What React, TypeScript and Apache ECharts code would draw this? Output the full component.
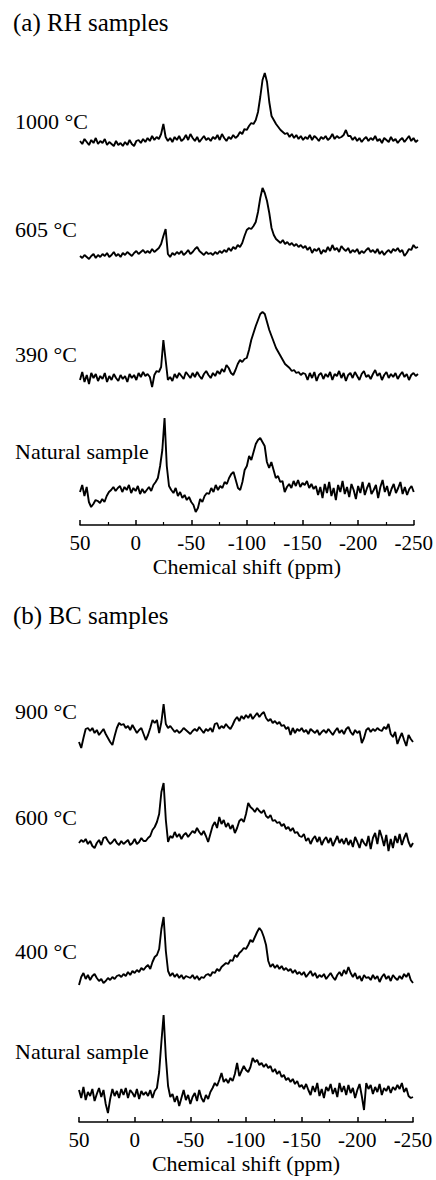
import React, { useEffect, useRef } from "react";
import * as echarts from "echarts";

// Chemical shift sampling grid (ppm), from 50 down to -250 in 2 ppm steps
const PPM_START = 50;
const PPM_STEP = -2;
const ppm: number[] = Array.from({ length: 151 }, (_, i) => PPM_START + PPM_STEP * i);

const tickValues = [50, 0, -50, -100, -150, -200, -250];

// Intensities (arbitrary units, baseline = 0)
const rh1000 = [
  1, -2, 3, 0, -3, 2, -1, 4, -2, 1,
  -1, 3, -3, 0, -2, -4, 1, -3, -1, -4,
  0, -3, 2, -2, -4, 1, 2, -1, 3, 0,
  4, 1, 6, 2, 5, 3, 8, 18, 5, 1,
  4, 0, 5, 2, 6, 1, 3, 7, 2, 8,
  4, 1, 5, 0, 3, 6, 2, 4, 1, 5,
  3, 7, 2, 8, 4, 1, 5, 3, 7, 4,
  6, 10, 8, 13, 12, 16, 19, 18, 22, 30,
  45, 62, 69, 60, 40, 26, 22, 18, 15, 12,
  10, 8, 9, 5, 8, 4, 7, 3, 6, 2,
  5, 3, 7, 2, 6, 4, 1, 5, 3, 6,
  2, 4, 8, 3, 6, 4, 5, 7, 12, 6,
  6, 2, 5, 1, 4, 0, 3, 5, 1, 4,
  2, 6, 1, 3, -1, 4, 2, 0, 5, 1,
  3, -1, 2, 4, 0, 3, 6, 1, 4, 0,
  2,
];

const rh605 = [
  0, -2, 1, -1, -3, 0, 2, -2, 1, -1,
  2, 0, 3, -1, 1, 4, 0, 2, -1, 3,
  1, 4, 2, 0, 3, 5, 2, 4, 6, 3,
  5, 3, 7, 4, 6, 8, 12, 20, 27, 2,
  -1, 3, 1, 4, 2, 5, 1, 3, 6, 2,
  4, 7, 9, 5, 3, 1, 4, 2, 3, 1,
  4, 2, 5, 3, 6, 4, 8, 5, 9, 7,
  11, 9, 13, 20, 26, 28, 27, 30, 34, 44,
  58, 68, 63, 55, 43, 28, 21, 17, 15, 13,
  16, 12, 14, 11, 13, 10, 12, 9, 11, 8,
  10, 6, 9, 3, 7, 5, 8, 2, 6, 4,
  9, 5, 11, 6, 8, 4, 10, 7, 5, 8,
  3, 6, 4, 7, 2, 5, 3, 6, 8, 4,
  6, 3, 7, 2, 5, 1, 4, 6, 3, 7,
  5, 8, 4, 6, 0, 3, 7, 6, 11, 8,
  9,
];

const rh390 = [
  -2, 6, -4, 3, -6, 5, 0, 4, -3, 2,
  -1, 5, -4, 2, -2, 4, 0, -3, 3, -1,
  2, -4, 4, 0, 3, -2, 5, 1, 6, 2,
  4, 1, -9, 3, 7, 6, 11, 38, 18, -2,
  1, -3, 4, 0, 5, 2, -1, 6, 3, 0,
  5, 1, 6, 2, -1, 4, 7, 3, 0, 5,
  2, 7, 4, 9, 6, 13, 10, 5, 3, 8,
  14, 18, 16, 19, 20, 28, 38, 45, 52, 58,
  64, 66, 64, 56, 48, 42, 36, 30, 26, 22,
  18, 14, 12, 10, 7, 8, 5, 6, 3, 5,
  4, -2, 5, 0, 6, -3, 3, 5, -1, 4,
  1, 6, -2, 4, 2, 7, 0, 5, -3, 3,
  5, 0, 6, 2, -2, 4, 7, 1, 3, -1,
  4, 8, 2, 5, -2, 3, 6, 0, 4, 1,
  5, -1, 3, 6, 1, 4, -2, 3, 5, 2,
  4,
];

const rhNatural = [
  -2, 5, -6, 3, -12, -17, -14, -10, -11, -13,
  -9, -12, -6, -2, 0, 3, -1, 2, 4, -2,
  3, 0, 5, -3, 2, -1, 4, -4, 1, -3,
  0, 3, -1, 5, 8, 12, 24, 40, 72, 24,
  4, 0, -3, 2, -6, -2, -8, -5, -10, -7,
  -12, -15, -22, -18, -9, -12, -6, -3, -4, 2,
  -2, 5, 0, 4, 2, 8, 6, 12, 16, 18,
  10, 2, 0, 8, 20, 24, 34, 30, 38, 46,
  50, 52, 48, 44, 28, 22, 28, 20, 12, 14,
  8, 9, -2, 3, 6, 2, 9, 4, 10, 3,
  7, 5, 9, 2, 6, 1, 4, -5, 3, -8,
  6, -3, 8, -6, 2, -10, 5, -2, 9, -4,
  3, -7, 6, 0, -9, 4, -3, 8, -5, 2,
  7, -4, 0, 5, -8, 3, 10, -2, 4, -6,
  1, 6, -3, 2, 8, -4, 3, -5, 1, 4,
  -2,
];

const bc900 = [
  -10, -16, -6, 3, 4, 1, 4, -1, 2, -3,
  0, 3, -2, -6, -10, -13, -4, 4, 9, 7,
  8, 4, 6, 2, 7, 3, -1, 2, 4, -2,
  -8, -3, 4, 12, 9, 12, -1, 10, 28, 8,
  4, 6, 3, 0, 2, -1, 1, 4, 2, 0,
  -2, 1, 3, 1, 5, 2, -1, 3, 1, 4,
  0, 8, 9, 3, 6, 4, 8, 5, 3, 7,
  12, 15, 11, 16, 13, 17, 14, 18, 13, 16,
  19, 15, 18, 20, 14, 11, 13, 9, 11, 8,
  10, 6, 7, 3, 5, -3, 4, -1, 3, 1,
  4, 0, 2, -2, 3, 1, -1, 2, -3, 0,
  2, -1, 3, 0, -3, 1, 4, -1, 2, -2,
  3, 5, 0, -3, 2, -1, 1, -11, -6, 2,
  4, 0, 3, 1, 4, 2, 1, 5, 3, 8,
  -2, -5, 0, -12, -6, -1, -8, -14, -3, -7,
  -10,
];

const bc600 = [
  -3, 0, -2, 1, -4, -1, -6, -8, -3, 0,
  -5, 2, 3, -1, -4, -2, 1, -3, -5, -1,
  -4, -2, 0, -5, -3, 1, -4, -2, 2, -1,
  -1, 2, 4, 10, 13, 18, 26, 48, 57, 20,
  -2, 4, 2, 8, 3, 6, 1, 5, 7, 3,
  6, 9, 7, 12, 8, 5, 9, 4, -2, 6,
  14, 18, 12, 23, 16, 20, 13, 17, 11, 15,
  7, 12, 19, 21, 18, 26, 37, 33, 31, 28,
  32, 29, 27, 30, 24, 22, 25, 19, 20, 17,
  18, 14, 16, 11, 13, 9, 12, 7, 8, 4,
  3, 6, -1, 2, -4, 1, 4, -2, 3, -5,
  0, 3, -3, 2, -6, -1, 4, -3, 1, -4,
  2, -5, 0, -7, 3, -2, -8, 1, -3, -6,
  4, -9, 2, 7, -4, 10, 3, -6, 5, -11,
  1, -8, 4, -3, 6, -5, 2, 7, -2, -7,
  -3,
];

const bc400 = [
  -6, 2, 6, 0, 4, -1, 3, 5, 1, -2,
  0, -4, -2, 1, -1, 2, 0, 3, 4, 2,
  5, 3, 7, 4, 8, 6, 9, 7, 11, 9,
  12, 14, 10, 17, 22, 24, 30, 50, 62, 28,
  8, 3, 6, 2, 5, 1, 4, 0, 3, 2,
  1, 4, 0, 3, -1, 2, 1, 4, 5, 3,
  7, 6, 10, 8, 12, 14, 16, 15, 19, 18,
  24, 22, 26, 28, 31, 30, 34, 39, 37, 42,
  47, 51, 48, 42, 34, 18, 12, 15, 11, 14,
  10, 13, 9, 11, 8, 10, 6, 9, 5, 7,
  4, 7, 2, 5, 8, 3, 6, 1, 4, 2,
  5, 0, 3, 6, 2, -1, 4, 7, 3, 9,
  5, 12, 6, 2, 6, 0, 3, -2, 4, 1,
  2, -1, 4, 0, 3, -3, 2, 5, 0, 3,
  -2, 4, 1, -1, 3, 0, 5, 2, 6, -1,
  -4,
];

const bcNatural = [
  2, -6, 5, -8, 0, -4, 3, -9, -2, 4,
  -5, 2, -12, -21, -7, 3, -4, 1, -6, 3,
  -3, 4, -6, 2, -1, -5, 3, -7, 1, -3,
  0, -4, 2, -6, 1, 4, 20, 50, 77, 35,
  6, -5, -2, -10, -4, -14, -6, 2, -8, -3,
  -12, -5, -1, -9, 2, -6, -10, -3, -7, 0,
  4, 9, 6, 12, 19, 10, 13, 9, 14, 11,
  18, 29, 16, 21, 26, 22, 20, 25, 34, 30,
  32, 27, 29, 25, 28, 24, 26, 20, 23, 18,
  21, 15, 17, 12, 14, 10, 13, 8, 11, 5,
  7, 3, 8, 2, -3, 6, 0, 9, -4, 3,
  -6, 5, 1, 8, -2, 4, -5, 9, 0, 6,
  -3, 7, -1, 4, -6, 2, 8, -4, -18, 9,
  3, 7, -2, 5, 0, 8, -3, 4, 1, 6,
  -1, 5, 2, 7, 3, 9, 0, 4, -4, -6,
  -5,
];

const panelTitles = ["(a) RH samples", "(b) BC samples"];
const rhLabels = ["1000 °C", "605 °C", "390 °C", "Natural sample"];
const bcLabels = ["900 °C", "600 °C", "400 °C", "Natural sample"];
const axisTitle = "Chemical shift (ppm)";

const FONT = '"Liberation Serif", "Times New Roman", serif';

export default function App() {
  const ref = useRef<HTMLDivElement>(null);

  useEffect(() => {
    if (!ref.current) return;
    const chart = echarts.init(ref.current, undefined, { renderer: "svg" });

    const panelA = { left: 80, width: 338, axisY: 525 };
    const panelB = { left: 79, width: 334, axisY: 1122 };

    const spectra = [
      { label: rhLabels[0], data: rh1000, base: 142, labelY: 122, panel: panelA, bottom: false },
      { label: rhLabels[1], data: rh605, base: 256, labelY: 230, panel: panelA, bottom: false },
      { label: rhLabels[2], data: rh390, base: 378, labelY: 355, panel: panelA, bottom: false },
      { label: rhLabels[3], data: rhNatural, base: 490, labelY: 452, panel: panelA, bottom: true },
      { label: bcLabels[0], data: bc900, base: 732, labelY: 712, panel: panelB, bottom: false },
      { label: bcLabels[1], data: bc600, base: 840, labelY: 818, panel: panelB, bottom: false },
      { label: bcLabels[2], data: bc400, base: 979, labelY: 952, panel: panelB, bottom: false },
      { label: bcLabels[3], data: bcNatural, base: 1092, labelY: 1052, panel: panelB, bottom: true },
    ];

    const Y_MAX = 90;
    const grids: any[] = [];
    const xAxes: any[] = [];
    const yAxes: any[] = [];
    const series: any[] = [];
    const graphics: any[] = [];

    spectra.forEach((s, i) => {
      const yMin = s.bottom ? -(s.panel.axisY - s.base) : -35;
      grids.push({
        left: s.panel.left,
        width: s.panel.width,
        top: s.base - Y_MAX,
        height: Y_MAX - yMin,
        containLabel: false,
      });
      xAxes.push({
        gridIndex: i,
        type: "value",
        min: -250,
        max: 50,
        interval: 50,
        inverse: true,
        show: s.bottom,
        axisLine: { show: true, onZero: false, lineStyle: { color: "#000", width: 1.5 } },
        axisTick: { show: true, inside: true, length: 5, lineStyle: { color: "#000", width: 1.5 } },
        minorTick: { show: true, splitNumber: 2, length: 3, lineStyle: { color: "#000", width: 1.2 } },
        splitLine: { show: false },
        minorSplitLine: { show: false },
        axisLabel: {
          show: true,
          margin: 7,
          color: "#000",
          fontFamily: FONT,
          fontSize: 21,
          customValues: tickValues,
        },
        name: s.bottom ? axisTitle : "",
        nameLocation: "middle",
        nameGap: 30,
        nameTextStyle: { color: "#000", fontFamily: FONT, fontSize: 22 },
      });
      yAxes.push({ gridIndex: i, type: "value", min: yMin, max: Y_MAX, show: false });
      series.push({
        type: "line",
        name: s.label,
        xAxisIndex: i,
        yAxisIndex: i,
        data: s.data.map((v, k) => [ppm[k], v]),
        showSymbol: false,
        symbol: "none",
        clip: false,
        lineStyle: { color: "#000", width: 1.9 },
        silent: true,
      });
      graphics.push({
        type: "text",
        left: 15,
        top: s.labelY - 12,
        style: { text: s.label, font: `22px ${FONT}`, fill: "#000" },
      });
    });

    graphics.push({
      type: "text",
      left: 13,
      top: 10,
      style: { text: panelTitles[0], font: `25px ${FONT}`, fill: "#000" },
    });
    graphics.push({
      type: "text",
      left: 13,
      top: 603,
      style: { text: panelTitles[1], font: `25px ${FONT}`, fill: "#000" },
    });

    chart.setOption({
      animation: false,
      backgroundColor: "#fff",
      grid: grids,
      xAxis: xAxes,
      yAxis: yAxes,
      series,
      graphic: graphics,
    });

    return () => chart.dispose();
  }, []);

  return (
    <div style={{ position: "absolute", left: 0, top: 0, width: 436, height: 1180, background: "#fff" }}>
      <div ref={ref} style={{ width: 436, height: 1180 }} />
    </div>
  );
}
